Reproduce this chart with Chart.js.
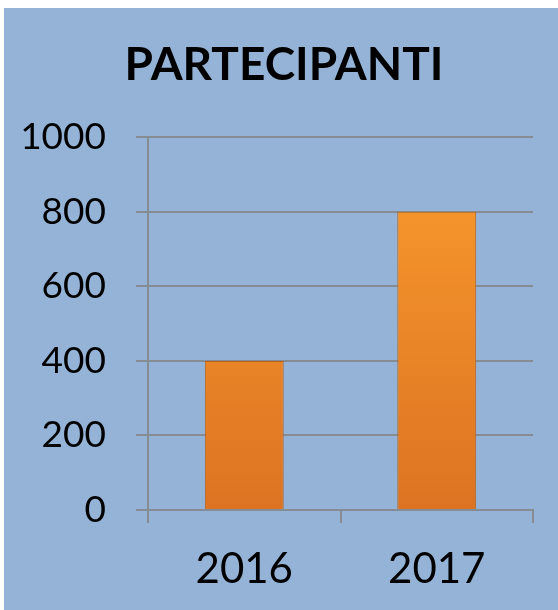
<!DOCTYPE html>
<html lang="it">
  <head>
    <meta charset="UTF-8" />
    <title>Partecipanti</title>
    <script src="https://cdn.jsdelivr.net/npm/chart.js"></script>
    <style>
      body {
        margin: 0;
        background: #ffffff;
      }
      .box {
        position: absolute;
        left: 4px;
        top: 8px;
        width: 554px;
        height: 602px;
        background: #95b3d7;
      }
    </style>
  </head>
  <body>
    <div class="box">
      <canvas id="myChart" width="554" height="602"></canvas>
    </div>

    <script>
      // chart data
      var years = ["2016", "2017"];
      var partecipanti = [400, 800];
      var yTicks = [0, 200, 400, 600, 800, 1000];

      // orange gradient for the bars (lighter on top, darker at the base)
      function barFill(context) {
        var chart = context.chart;
        var area = chart.chartArea;
        if (!area) return "#f28c28";
        var g = chart.ctx.createLinearGradient(0, area.top, 0, area.bottom);
        g.addColorStop(0, "#fb9c2e");
        g.addColorStop(1, "#dc7322");
        return g;
      }

      var ctx = document.getElementById("myChart").getContext("2d");
      new Chart(ctx, {
        type: "bar",
        data: {
          labels: years,
          datasets: [{
            label: "Partecipanti",
            data: partecipanti,
            backgroundColor: barFill,
            borderColor: "#b5621c",
            borderWidth: 1,
            barPercentage: 0.41,
            categoryPercentage: 1
          }]
        },
        options: {
          responsive: false,
          animation: false,
          layout: {
            padding: { left: 17, right: 11, top: 0, bottom: 0 }
          },
          plugins: {
            legend: { display: false },
            tooltip: { enabled: false },
            title: {
              display: true,
              text: "PARTECIPANTI",
              color: "#000000",
              font: { family: "Lato", size: 46, weight: "bold", lineHeight: 1.2 },
              padding: { top: 30, bottom: 44 }
            }
          },
          scales: {
            x: {
              offset: true,
              grid: {
                offset: true,
                drawOnChartArea: false,
                color: "#868c94",
                lineWidth: 2,
                tickLength: 13
              },
              border: { color: "#868c94", width: 2 },
              ticks: {
                color: "#000000",
                font: { family: "Lato", size: 42 },
                padding: 21
              },
              afterFit: function (scale) {
                scale.height = 100;
              }
            },
            y: {
              min: 0,
              max: 1000,
              afterBuildTicks: function (scale) {
                scale.ticks = yTicks.map(function (v) { return { value: v }; });
              },
              grid: {
                color: "#868c94",
                lineWidth: 2,
                tickLength: 12
              },
              border: { color: "#868c94", width: 2 },
              ticks: {
                color: "#000000",
                font: { family: "Lato", size: 37 },
                padding: 30,
                callback: function (value) {
                  return String(value);
                }
              },
              afterFit: function (scale) {
                scale.width = 127;
              }
            },
            // empty spacer on the right so the title sits where it should
            y2: {
              position: "right",
              display: true,
              grid: { display: false, drawTicks: false },
              border: { display: false },
              ticks: { display: false },
              afterFit: function (scale) {
                scale.width = 14;
              }
            }
          }
        }
      });
    </script>
  </body>
</html>
